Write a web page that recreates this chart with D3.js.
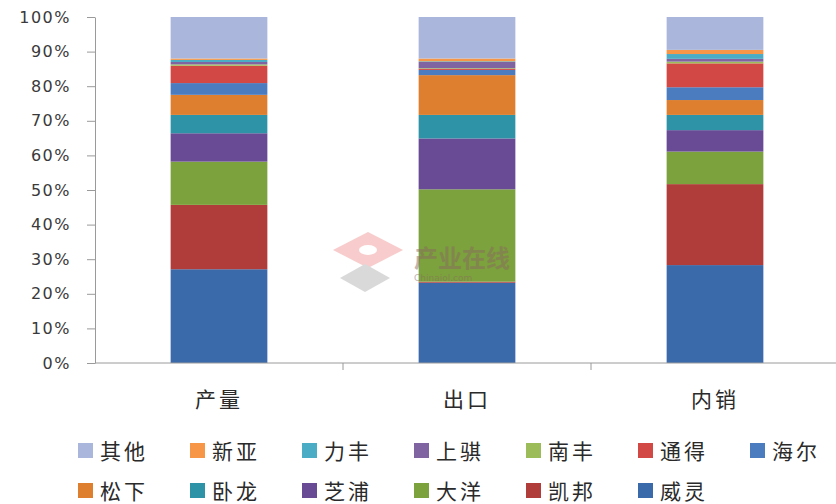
<!DOCTYPE html>
<html>
<head>
<meta charset="utf-8">
<script src="https://cdn.jsdelivr.net/npm/d3@7"></script>
<style>
  body { margin: 0; background: #fff; }
  svg { display: block; }
</style>
</head>
<body>
<div id="container"></div>
<script>
// data (percent shares)
const categories = ['产量', '出口', '内销'];
const seriesNames = ['威灵', '凯邦', '大洋', '芝浦', '卧龙', '松下', '海尔', '通得', '南丰', '上骐', '力丰', '新亚', '其他'];
const chanliang = [27.1, 18.6, 12.5, 8.2, 5.3, 5.8, 3.4, 5.0, 0.4, 0.7, 0.6, 0.4, 12.0];
const chukou    = [23.2, 0.3, 26.7, 14.7, 6.8, 11.5, 1.5, 0.3, 0.2, 1.8, 0.2, 0.8, 12.0];
const neixiao   = [28.3, 23.4, 9.4, 6.2, 4.4, 4.3, 3.7, 6.9, 0.5, 0.8, 1.4, 1.2, 9.5];
const yTicks = [0, 0.1, 0.2, 0.3, 0.4, 0.5, 0.6, 0.7, 0.8, 0.9, 1];

const colors = ['#3b6aab', '#b13d3a', '#7ba23c', '#684a95', '#2f93a8', '#dd7f2e',
                '#4c7cc0', '#d24844', '#9cbb59', '#8064a2', '#4bacc6', '#f79646', '#aab6dc'];

const width = 836, height = 504;
const margin = { left: 95, top: 17, right: -3, bottom: 141 };

const svg = d3.select('#container').append('svg')
    .attr('width', width).attr('height', height);

const rows = categories.map((c, i) => {
    const vals = [chanliang, chukou, neixiao][i];
    const r = { cat: c };
    seriesNames.forEach((s, j) => { r[s] = vals[j] / 100; });
    return r;
});
const stacked = d3.stack().keys(seriesNames)(rows);

const x = d3.scaleBand().domain(categories)
    .range([margin.left, width - margin.right])
    .paddingInner(0.61).paddingOuter(0.305);
const y = d3.scaleLinear().domain([0, 1]).range([height - margin.bottom, margin.top]);
const color = d3.scaleOrdinal().domain(seriesNames).range(colors);

// bars
svg.append('g').selectAll('g').data(stacked).join('g')
    .attr('fill', d => color(d.key))
    .selectAll('rect').data(d => d).join('rect')
    .attr('x', d => x(d.data.cat))
    .attr('width', x.bandwidth())
    .attr('y', d => y(d[1]))
    .attr('height', d => y(d[0]) - y(d[1]));

// watermark (faint, over the bars)
const wm = svg.append('g').attr('opacity', 0.5);
wm.append('path').attr('d', 'M333,250 L368,232 L403,250 L368,268 Z').attr('fill', '#f29a9a');
wm.append('ellipse').attr('cx', 368).attr('cy', 250).attr('rx', 9).attr('ry', 5).attr('fill', '#fff');
wm.append('path').attr('d', 'M340,278 L365,264 L390,278 L365,292 Z').attr('fill', '#b5b5b5');
wm.append('text').attr('x', 414).attr('y', 267)
    .style('font-family', '"Noto Sans CJK SC"').style('font-size', '24px').style('font-weight', 'bold')
    .attr('fill', '#8a6a60').text('产业在线');
wm.append('text').attr('x', 414).attr('y', 281)
    .style('font-family', '"DejaVu Sans"').style('font-size', '9px')
    .attr('fill', '#8a6a60').text('Chinaiol.com');

// y axis
const yAxis = svg.append('g').attr('transform', `translate(${margin.left},0)`)
    .call(d3.axisLeft(y).tickValues(yTicks).tickFormat(d3.format('.0%'))
        .tickSize(8).tickSizeOuter(0).tickPadding(16));
yAxis.select('.domain').attr('stroke', '#9a9a9a');
yAxis.selectAll('.tick line').attr('stroke', '#9a9a9a');
yAxis.selectAll('text')
    .style('font-family', '"DejaVu Sans"').style('font-size', '16px')
    .style('letter-spacing', '1.5px').attr('fill', '#3a3a3a');

// x axis
const step = x.step();
const xg = svg.append('g');
xg.append('line')
    .attr('x1', margin.left).attr('x2', width)
    .attr('y1', y(0)).attr('y2', y(0))
    .attr('stroke', '#9a9a9a');
xg.selectAll('line.tk').data(categories.slice(1)).join('line')
    .attr('class', 'tk')
    .attr('x1', d => x(d) - step * x.paddingInner() / 2)
    .attr('x2', d => x(d) - step * x.paddingInner() / 2)
    .attr('y1', y(0)).attr('y2', y(0) + 7)
    .attr('stroke', '#9a9a9a');
xg.selectAll('text').data(categories).join('text')
    .attr('x', d => x(d) + x.bandwidth() / 2)
    .attr('y', y(0) + 44)
    .attr('text-anchor', 'middle')
    .style('font-family', '"Noto Sans CJK SC"').style('font-size', '21px')
    .style('letter-spacing', '3px')
    .attr('fill', '#2a2a2a')
    .text(d => d);

// legend
const legendItems = seriesNames.slice().reverse();
const lg = svg.append('g').selectAll('g').data(legendItems).join('g')
    .attr('transform', (d, i) => `translate(${78 + (i % 7) * 112},${451 + Math.floor(i / 7) * 40})`);
lg.append('rect').attr('x', 0).attr('y', -8).attr('width', 15).attr('height', 15)
    .attr('fill', d => color(d));
lg.append('text').attr('x', 22).attr('y', 8)
    .style('font-family', '"Noto Sans CJK SC"').style('font-size', '21px')
    .style('letter-spacing', '3px')
    .attr('fill', '#2a2a2a')
    .text(d => d);
</script>
</body>
</html>
